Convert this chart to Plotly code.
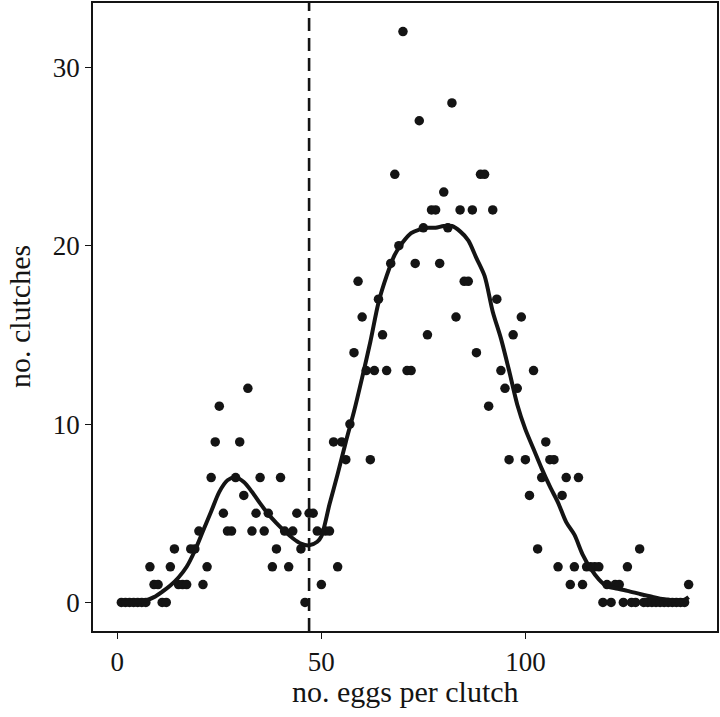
import plotly.graph_objects as go

# ---- data ----
eggs_per_clutch = list(range(1, 141))
n_clutches = [
    0, 0, 0, 0, 0, 0, 0, 2, 1, 1,        # 1-10
    0, 0, 2, 3, 1, 1, 1, 3, 3, 4,        # 11-20
    1, 2, 7, 9, 11, 5, 4, 4, 7, 9,       # 21-30
    6, 12, 4, 5, 7, 4, 5, 2, 3, 7,       # 31-40
    4, 2, 4, 5, 3, 0, 5, 5, 4, 1,        # 41-50
    4, 4, 9, 2, 9, 8, 10, 14, 18, 16,    # 51-60
    13, 8, 13, 17, 15, 13, 19, 24, 20, 32,   # 61-70
    13, 13, 19, 27, 21, 15, 22, 22, 19, 23,  # 71-80
    21, 28, 16, 22, 18, 18, 22, 14, 24, 24,  # 81-90
    11, 22, 17, 13, 12, 8, 15, 12, 16, 8,    # 91-100
    6, 13, 3, 7, 9, 8, 8, 2, 6, 7,       # 101-110
    1, 2, 7, 1, 2, 2, 2, 2, 0, 1,        # 111-120
    0, 1, 1, 0, 2, 0, 0, 3, 0, 0,        # 121-130
    0, 0, 0, 0, 0, 0, 0, 0, 0, 1,        # 131-140
]

# smoothed trend
smooth_x = [1, 4, 7, 9, 11, 13, 15, 17, 19, 21, 23, 25, 27, 29, 31, 33, 35, 37,
            39, 41, 43, 45, 47, 49, 50, 52, 54, 56, 58, 60, 62, 64, 66, 68, 70,
            72, 74, 76, 78, 80, 82, 84, 86, 88, 90, 92, 94, 96, 98, 100, 102,
            104, 106, 108, 110, 112, 114, 116, 118, 120, 122, 125, 128, 131,
            134, 137, 139, 140]
smooth_y = [0.0, 0.02, 0.12, 0.3, 0.6, 0.95, 1.4, 2.0, 2.9, 4.0, 5.1, 6.2, 6.85,
            7.0, 6.75, 6.2, 5.55, 4.95, 4.45, 4.0, 3.6, 3.3, 3.2, 3.4, 3.7, 5.5,
            7.2, 9.0, 10.7, 12.6, 14.6, 16.8, 18.3, 19.5, 20.2, 20.7, 20.9, 21.0,
            21.0, 21.1, 21.1, 20.8, 20.3, 19.3, 18.3, 16.3, 14.8, 13.0, 11.1,
            9.7, 8.6, 7.5, 6.5, 5.6, 4.5, 3.8, 2.7, 1.9, 1.3, 0.9, 0.8, 0.65,
            0.48, 0.32, 0.18, 0.12, 0.15, 0.3]

threshold = 47

x_ticks = [0, 50, 100]
y_ticks = [0, 10, 20, 30]

FONT = "Liberation Serif"
INK = "#141414"

fig = go.Figure()
fig.add_trace(go.Scatter(
    x=eggs_per_clutch, y=n_clutches, mode="markers",
    marker=dict(size=9.5, color=INK, line=dict(width=0)),
    showlegend=False, hoverinfo="x+y",
))
fig.add_trace(go.Scatter(
    x=smooth_x, y=smooth_y, mode="lines",
    line=dict(color=INK, width=4, shape="spline", smoothing=0.8),
    showlegend=False, hoverinfo="skip",
))
fig.add_shape(type="line", x0=threshold, x1=threshold, xref="x",
              y0=0, y1=1, yref="paper",
              line=dict(color=INK, width=2.6, dash="13px,7px"))

fig.update_layout(
    width=720, height=717,
    margin=dict(l=93, r=2, t=1, b=86),
    paper_bgcolor="white", plot_bgcolor="white",
    font=dict(family=FONT, color=INK),
    xaxis=dict(range=[-5.95, 146.95], tickvals=x_ticks, ticks="outside",
               ticklen=6, tickwidth=1.3, tickcolor=INK,
               showline=True, linecolor=INK, linewidth=1.6, mirror=True,
               showgrid=False, zeroline=False,
               tickfont=dict(family=FONT, size=27, color=INK)),
    yaxis=dict(range=[-1.6, 33.6], tickvals=y_ticks, ticks="outside",
               ticklen=6, tickwidth=1.3, tickcolor=INK,
               showline=True, linecolor=INK, linewidth=1.6, mirror=True,
               showgrid=False, zeroline=False,
               tickfont=dict(family=FONT, size=27, color=INK)),
    annotations=[
        dict(text="no. eggs per clutch", xref="paper", yref="paper",
             x=0.5, y=-0.097, xanchor="center", yanchor="middle",
             showarrow=False, font=dict(family=FONT, size=30, color=INK)),
        dict(text="no. clutches", xref="paper", yref="paper",
             x=-0.1184, y=0.5, xanchor="center", yanchor="middle",
             textangle=-90,
             showarrow=False, font=dict(family=FONT, size=30, color=INK)),
    ],
)

fig.write_html("out.html",
               config={"displayModeBar": False},
               post_script="document.body.style.margin='0';"
                           "document.body.style.overflow='hidden';")
